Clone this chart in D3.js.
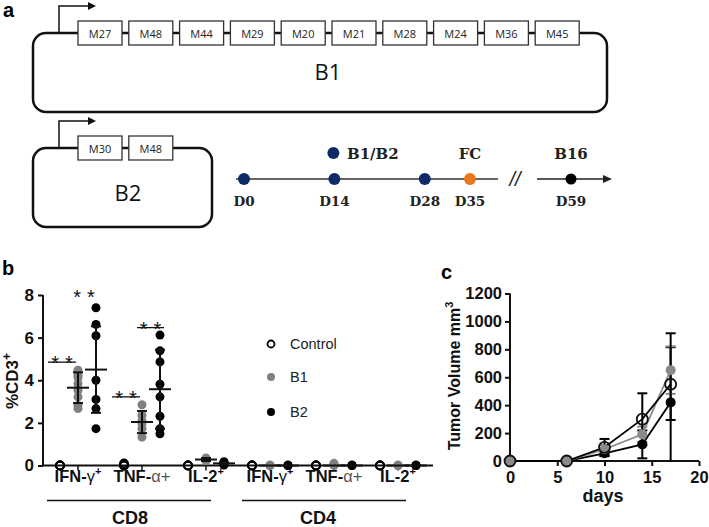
<!DOCTYPE html>
<html><head><meta charset="utf-8">
<script src="https://cdn.jsdelivr.net/npm/d3@7"></script>
<style>body{margin:0;background:#fff}svg{display:block}</style>
</head><body>
<script>
// ---------- DATA ----------
const b1Modules = ["M27","M48","M44","M29","M20","M21","M28","M24","M36","M45"];
const b2Modules = ["M30","M48"];
const timelineDays = [0,14,28,35];
const timelineLabels = ["D0","D14","D28","D35"];
const timelineColors = ["#0c2a66","#0c2a66","#0c2a66","#e8781e"];

const cytokines = ["IFN-γ","TNF-α","IL-2","IFN-γ","TNF-α","IL-2"];
const subsets = ["CD8","CD4"];
const groupNames = ["Control","B1","B2"];
// individual points per cytokine column
const ptsControl = [[0,0,0,0],[0.1,0.04,0,0],[0,0,0],[0,0,0],[0,0,0],[0,0,0]];
const ptsB1 = [[4.47,4.24,4.13,3.84,3.53,3.22,2.82,2.67],[2.85,2.35,2.09,1.96,1.73,1.33],[0.35,0.3,0.22,0.25],[0.02,0,0],[0.1,0.05,0],[0.02,0,0]];
const ptsB2 = [[7.4,6.62,6.09,4.0,3.1,2.67,1.73],[6.12,5.38,4.86,3.81,3.22,2.31,1.73,1.49],[0.18,0.1,0.05,0.02],[0.02,0,0],[0.02,0,0],[0.02,0,0]];
const meanB1 = [3.65,2.04,0.28,0,0,0];
const sdB1 = [0.72,0.52,0.07,0,0,0];
const meanB2 = [4.5,3.58,0.1,0,0,0];
const sdB2 = [2.03,1.85,0.05,0,0,0];
const bTicks = [0,2,4,6,8];

const days = [0,6,10,14,17];
const volControl = [0,0,98,300,550];
const volB1 = [0,0,84,191,651];
const volB2 = [0,0,55,119,420];
const errHiControl = [0,0,60,185,365], errLoControl = [0,0,60,185,550];
const errHiB1 = [0,0,30,55,170], errLoB1 = [0,0,30,55,170];
const errHiB2 = [0,0,20,100,395], errLoB2 = [0,0,20,100,126];
const cYTicks = [0,200,400,600,800,1000,1200];
const cXTicks = [0,5,10,15,20];

// ---------- SVG ----------
const W=709,H=527;
const svg=d3.select("body").append("svg").attr("width",W).attr("height",H).style("background","#fff");
const sans="Liberation Sans, Arial, sans-serif";
const serif="DejaVu Serif, Cambria, serif";
const light="Open Sans, Noto Sans, sans-serif";

// panel letters
svg.append("text").attr("x",3).attr("y",17).text("a").attr("font-family",sans).attr("font-weight","bold").attr("font-size",20);
svg.append("text").attr("x",2).attr("y",275).text("b").attr("font-family",sans).attr("font-weight","bold").attr("font-size",20);
svg.append("text").attr("x",441).attr("y",279).text("c").attr("font-family",sans).attr("font-weight","bold").attr("font-size",20);

// ---------- PANEL A ----------
const pa=svg.append("g");
function construct(x0,y0,x1,y1,mods,label,labelX,labelY){
  pa.append("rect").attr("x",x0).attr("y",y0).attr("width",x1-x0).attr("height",y1-y0).attr("rx",13)
    .attr("fill","none").attr("stroke","#111").attr("stroke-width",2.5);
  pa.append("path").attr("d",`M${x0+26},${y0} V${y0-27} H${x0+55}`).attr("fill","none").attr("stroke","#111").attr("stroke-width",1.5);
  pa.append("path").attr("d",`M${x0+55},${y0-31} L${x0+63},${y0-27} L${x0+55},${y0-23} Z`).attr("fill","#111");
  const bx=d3.scaleLinear().domain([0,9]).range([78,78+9*50.8]);
  mods.forEach((m,i)=>{
    pa.append("rect").attr("x",bx(i)).attr("y",y0-12).attr("width",44).attr("height",24)
      .attr("fill","#fff").attr("stroke","#333").attr("stroke-width",1.3);
    pa.append("text").attr("x",bx(i)+22).attr("y",y0+4.5).attr("text-anchor","middle")
      .attr("font-family",light).attr("font-size",11).attr("fill","#222").text(m);
  });
  pa.append("text").attr("x",labelX).attr("y",labelY).attr("text-anchor","middle")
    .attr("font-family",light).attr("font-size",22).attr("fill","#111").text(label);
}
construct(33,33,607,112,b1Modules,"B1",328,80);
construct(33,148,212,227,b2Modules,"B2",128,201);

// timeline
const tx=d3.scaleLinear().domain([0,35]).range([244,470]);
const ty=179;
pa.append("line").attr("x1",236).attr("x2",498).attr("y1",ty).attr("y2",ty).attr("stroke","#333").attr("stroke-width",1.6);
timelineDays.forEach((d,i)=>{
  pa.append("circle").attr("cx",tx(d)).attr("cy",ty).attr("r",6).attr("fill",timelineColors[i]);
  pa.append("text").attr("x",tx(d)).attr("y",206).attr("text-anchor","middle").attr("font-family",serif)
    .attr("font-weight","bold").attr("font-size",13.5).attr("fill","#222").text(timelineLabels[i]);
});
pa.append("circle").attr("cx",tx(14)-1).attr("cy",153).attr("r",6).attr("fill","#0c2a66");
pa.append("text").attr("x",347).attr("y",159).attr("font-family",serif).attr("font-weight","bold").attr("font-size",15).attr("fill","#222").text("B1/B2");
pa.append("text").attr("x",tx(35)).attr("y",159).attr("text-anchor","middle").attr("font-family",serif).attr("font-weight","bold").attr("font-size",15).attr("fill","#222").text("FC");
pa.append("text").attr("x",515).attr("y",186).attr("text-anchor","middle").attr("font-family",sans).attr("font-size",20).attr("font-style","italic").attr("fill","#222").text("//");
pa.append("line").attr("x1",537).attr("x2",604).attr("y1",ty).attr("y2",ty).attr("stroke","#222").attr("stroke-width",1.6);
pa.append("path").attr("d",`M603,${ty-4} L612,${ty} L603,${ty+4} Z`).attr("fill","#222");
pa.append("circle").attr("cx",571).attr("cy",ty).attr("r",5.5).attr("fill","#000");
pa.append("text").attr("x",571).attr("y",159).attr("text-anchor","middle").attr("font-family",serif).attr("font-weight","bold").attr("font-size",15).attr("fill","#222").text("B16");
pa.append("text").attr("x",571).attr("y",206).attr("text-anchor","middle").attr("font-family",serif).attr("font-weight","bold").attr("font-size",13.5).attr("fill","#222").text("D59");

// ---------- PANEL B ----------
const pb=svg.append("g");
const by=d3.scaleLinear().domain([0,8]).range([465.5,295]);
const bx=d3.scaleLinear().domain([0,5]).range([78,398]);
const off=[-0.281,0,0.281];
const bAxisX=43;
const yAx=pb.append("g").attr("transform",`translate(${bAxisX},0)`).call(d3.axisLeft(by).tickValues(bTicks).tickSize(5).tickFormat(d3.format("d")));
yAx.select(".domain").attr("stroke","#111").attr("stroke-width",2).attr("d",`M0,${by(8)}V${by(0)}`);
yAx.selectAll(".tick line").attr("stroke","#111").attr("stroke-width",2);
yAx.selectAll(".tick text").attr("font-family",sans).attr("font-weight","bold").attr("font-size",17).attr("fill","#111").attr("dx",-1);
pb.append("line").attr("x1",bAxisX).attr("x2",433).attr("y1",by(0)).attr("y2",by(0)).attr("stroke","#111").attr("stroke-width",2);
d3.range(6).forEach(g=>{
  pb.append("line").attr("x1",bx(g)).attr("x2",bx(g)).attr("y1",by(0)).attr("y2",by(0)+5).attr("stroke","#111").attr("stroke-width",1.5);
});
const yl=pb.append("text").attr("transform",`translate(18,381) rotate(-90)`).attr("text-anchor","middle")
  .attr("font-family",sans).attr("font-weight","bold").attr("font-size",17).attr("fill","#111");
yl.append("tspan").text("%CD3");
yl.append("tspan").attr("dy",-7).attr("font-size",12).text("+");
cytokines.forEach((c,g)=>{
  const t=pb.append("text").attr("x",bx(g)).attr("y",482).attr("text-anchor","middle")
    .attr("font-family",sans).attr("font-weight","bold").attr("font-size",16.5).attr("fill","#111");
  if(c==="IFN-γ"){
    t.append("tspan").text("IFN-");
    t.append("tspan").attr("font-weight","normal").text("γ");
    t.append("tspan").attr("dy",-7).attr("font-size",11).text("+");
  } else if(c==="TNF-α"){
    t.append("tspan").text("TNF-");
    t.append("tspan").attr("font-weight","normal").attr("fill","#555").text("α+");
  } else {
    t.append("tspan").text("IL-2");
    t.append("tspan").attr("dy",-7).attr("font-size",11).text("+");
  }
});
[[47,211,130,"CD8"],[242,406,318,"CD4"]].forEach(([x1,x2,cx,lab])=>{
  pb.append("line").attr("x1",x1).attr("x2",x2).attr("y1",500.5).attr("y2",500.5).attr("stroke","#111").attr("stroke-width",1.3);
  pb.append("text").attr("x",cx).attr("y",524).attr("text-anchor","middle").attr("font-family",sans)
    .attr("font-weight","bold").attr("font-size",18).attr("fill","#111").text(lab);
});
function meanBar(x,m,s){
  pb.append("line").attr("x1",x-11).attr("x2",x+11).attr("y1",by(m)).attr("y2",by(m)).attr("stroke","#111").attr("stroke-width",2);
  if(s>0){
    pb.append("line").attr("x1",x).attr("x2",x).attr("y1",by(m-s)).attr("y2",by(m+s)).attr("stroke","#111").attr("stroke-width",2);
    [m-s,m+s].forEach(v=>pb.append("line").attr("x1",x-5).attr("x2",x+5).attr("y1",by(v)).attr("y2",by(v)).attr("stroke","#111").attr("stroke-width",2));
  }
}
cytokines.forEach((c,g)=>{
  ptsB1[g].forEach(v=>pb.append("circle").attr("cx",bx(g+off[1])).attr("cy",by(v)).attr("r",4.5).attr("fill","#808080"));
  ptsB2[g].forEach(v=>pb.append("circle").attr("cx",bx(g+off[2])).attr("cy",by(v)).attr("r",4.5).attr("fill","#000"));
  ptsControl[g].forEach(v=>pb.append("circle").attr("cx",bx(g+off[0])).attr("cy",by(v)).attr("r",4).attr("fill","none").attr("stroke","#000").attr("stroke-width",1.8));
  meanBar(bx(g+off[1]),meanB1[g],sdB1[g]);
  meanBar(bx(g+off[2]),meanB2[g],sdB2[g]);
});
function stars(x1,x2,yv,withLine){
  if(withLine) pb.append("line").attr("x1",x1).attr("x2",x2).attr("y1",by(yv)).attr("y2",by(yv)).attr("stroke","#111").attr("stroke-width",1.3);
  pb.append("text").attr("x",(x1+x2)/2+3).attr("y",by(yv)+8).attr("text-anchor","middle").attr("font-family",sans)
    .attr("font-size",20).attr("letter-spacing",6).attr("fill","#111").text("**");
}
stars(48,76,4.85,true);
stars(74,94,7.95,false);
stars(112,140,3.22,true);
stars(137,164,6.47,true);
groupNames.forEach((n,i)=>{
  const yy=[344,377,412][i];
  if(i===0) pb.append("circle").attr("cx",271).attr("cy",yy).attr("r",3.5).attr("fill","none").attr("stroke","#000").attr("stroke-width",1.8);
  else pb.append("circle").attr("cx",271).attr("cy",yy).attr("r",4).attr("fill",i===1?"#808080":"#000");
  pb.append("text").attr("x",290).attr("y",yy+5).attr("font-family",sans).attr("font-size",14.5).attr("fill","#222").text(n);
});

// ---------- PANEL C ----------
const pc=svg.append("g");
const cx=d3.scaleLinear().domain([0,20]).range([510,699]);
const cy=d3.scaleLinear().domain([0,1200]).range([461,293.5]);
const cyAx=pc.append("g").attr("transform","translate(510,0)").call(d3.axisLeft(cy).tickValues(cYTicks).tickSize(5).tickFormat(d3.format("d")));
const cxAx=pc.append("g").attr("transform","translate(0,461)").call(d3.axisBottom(cx).tickValues(cXTicks).tickSize(5).tickFormat(d3.format("d")));
[cyAx,cxAx].forEach(a=>{
  a.select(".domain").attr("stroke","#111").attr("stroke-width",2);
  a.selectAll(".tick line").attr("stroke","#111").attr("stroke-width",2);
  a.selectAll(".tick text").attr("font-family",sans).attr("font-weight","bold").attr("font-size",16.5).attr("fill","#111");
});
cyAx.select(".domain").attr("d",`M0,${cy(1200)}V${cy(0)}`);
cxAx.select(".domain").attr("d",`M${cx(0)},0H${cx(20)}`);
cxAx.selectAll(".tick text").attr("dy","0.85em");
pc.append("text").attr("x",603).attr("y",502).attr("text-anchor","middle").attr("font-family",sans).attr("font-weight","bold").attr("font-size",18).attr("fill","#111").text("days");
const cyl=pc.append("text").attr("transform","translate(460,376) rotate(-90)").attr("text-anchor","middle")
  .attr("font-family",sans).attr("font-weight","bold").attr("font-size",16).attr("fill","#111");
cyl.append("tspan").text("Tumor Volume mm");
cyl.append("tspan").attr("dy",-7).attr("font-size",11).text("3");

const series=[
  {v:volB2,hi:errHiB2,lo:errLoB2,col:"#000"},
  {v:volB1,hi:errHiB1,lo:errLoB1,col:"#8a8a8a"},
  {v:volControl,hi:errHiControl,lo:errLoControl,col:"#000"}
];
series.forEach(s=>{
  days.forEach((d,i)=>{
    if(s.hi[i]===0&&s.lo[i]===0) return;
    const x=cx(d), y1=cy(Math.max(0,s.v[i]-s.lo[i])), y2=cy(s.v[i]+s.hi[i]);
    pc.append("line").attr("x1",x).attr("x2",x).attr("y1",y1).attr("y2",y2).attr("stroke",s.col).attr("stroke-width",2);
    pc.append("line").attr("x1",x-5).attr("x2",x+5).attr("y1",y2).attr("y2",y2).attr("stroke",s.col).attr("stroke-width",2);
    if(s.v[i]-s.lo[i]>0) pc.append("line").attr("x1",x-5).attr("x2",x+5).attr("y1",y1).attr("y2",y1).attr("stroke",s.col).attr("stroke-width",2);
  });
});
const line=d3.line().x((d,i)=>cx(days[i])).y(d=>cy(d));
series.forEach(s=>{
  pc.append("path").attr("d",line(s.v)).attr("fill","none").attr("stroke",s.col).attr("stroke-width",1.8);
});
days.forEach((d,i)=>{
  pc.append("circle").attr("cx",cx(d)).attr("cy",cy(volB2[i])).attr("r",5).attr("fill","#000");
});
days.forEach((d,i)=>{
  pc.append("circle").attr("cx",cx(d)).attr("cy",cy(volB1[i])).attr("r",5).attr("fill","#8a8a8a");
});
days.forEach((d,i)=>{
  pc.append("circle").attr("cx",cx(d)).attr("cy",cy(volControl[i])).attr("r",5.5).attr("fill","none").attr("stroke","#111").attr("stroke-width",1.8);
});
</script>
</body></html>
